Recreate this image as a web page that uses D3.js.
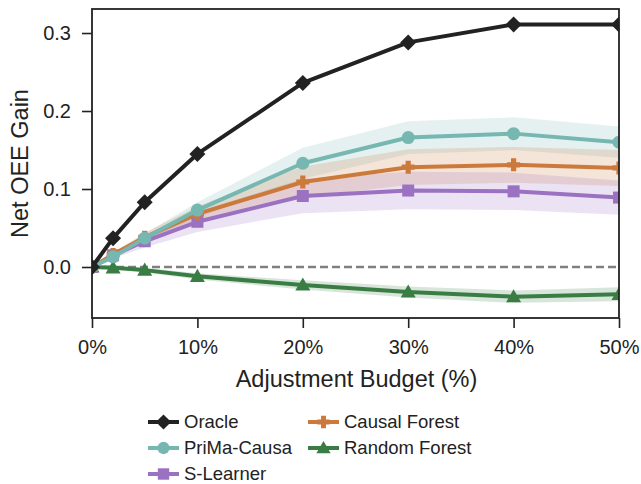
<!DOCTYPE html>
<html><head><meta charset="utf-8">
<script src="https://cdn.jsdelivr.net/npm/d3@7"></script>
<style>body{margin:0;background:#fff}svg{display:block}text{font-family:"Liberation Sans",Arial,sans-serif;fill:#222}</style>
</head><body><svg id="c" width="641" height="484"></svg>
<script>
const budgets = [0, 2, 5, 10, 20, 30, 40, 50];
const xTicks = [0, 10, 20, 30, 40, 50];
const yTicks = [0.0, 0.1, 0.2, 0.3];
const oracle = [0, 0.037, 0.083, 0.145, 0.236, 0.288, 0.311, 0.311];
const prima = [0, 0.013, 0.037, 0.073, 0.133, 0.166, 0.171, 0.160];
const primaErr = [0, 0.003, 0.006, 0.010, 0.020, 0.021, 0.021, 0.020];
const causal = [0, 0.016, 0.038, 0.068, 0.109, 0.128, 0.131, 0.127];
const causalErr = [0, 0.003, 0.006, 0.010, 0.020, 0.023, 0.023, 0.023];
const slearner = [0, 0.015, 0.033, 0.058, 0.091, 0.098, 0.097, 0.089];
const slearnerErr = [0, 0.004, 0.008, 0.013, 0.022, 0.024, 0.024, 0.022];
const rforest = [0, -0.001, -0.004, -0.012, -0.023, -0.032, -0.038, -0.035];
const rforestErr = [0, 0.002, 0.003, 0.004, 0.006, 0.007, 0.008, 0.009];
const names = ["Oracle", "PriMa-Causa", "S-Learner", "Causal Forest", "Random Forest"];
const colors = ["#222222", "#76b7b2", "#9a72c1", "#cc7a3c", "#3a7d44"];

const series = [
  {name: names[0], vals: oracle, err: null, color: colors[0], marker: "diamond"},
  {name: names[1], vals: prima, err: primaErr, color: colors[1], marker: "circle"},
  {name: names[2], vals: slearner, err: slearnerErr, color: colors[2], marker: "square"},
  {name: names[3], vals: causal, err: causalErr, color: colors[3], marker: "plus"},
  {name: names[4], vals: rforest, err: rforestErr, color: colors[4], marker: "triangle"}
];

const svg = d3.select("#c");
const L = 92, R = 619, T = 9, B = 318;
const x = d3.scaleLinear().domain([0, 50]).range([L, R]);
const y = d3.scaleLinear().domain([-0.0654, 0.3308]).range([B, T]);

svg.append("clipPath").attr("id", "plotclip").append("rect")
  .attr("x", L).attr("y", T).attr("width", R - L).attr("height", B - T);
const plot = svg.append("g").attr("clip-path", "url(#plotclip)");

const bandOrder = [1, 3, 2, 4];
bandOrder.forEach(i => {
  const s = series[i];
  const area = d3.area().x((d, j) => x(budgets[j])).y0((d, j) => y(d - s.err[j])).y1((d, j) => y(d + s.err[j]));
  plot.append("path").attr("d", area(s.vals)).attr("fill", s.color).attr("opacity", 0.2);
});

plot.append("line").attr("x1", x(0)).attr("x2", x(50)).attr("y1", y(0)).attr("y2", y(0))
  .attr("stroke", "#808080").attr("stroke-width", 2.4).attr("stroke-dasharray", "8,4");

function drawMarker(g, type, cx, cy, color, sc) {
  sc = sc || 1;
  if (type === "diamond") {
    const r = 8 * sc;
    g.append("path").attr("d", `M${cx},${cy - r}L${cx + r},${cy}L${cx},${cy + r}L${cx - r},${cy}Z`).attr("fill", color);
  } else if (type === "circle") {
    g.append("circle").attr("cx", cx).attr("cy", cy).attr("r", 6.5 * sc).attr("fill", color);
  } else if (type === "square") {
    const h = 6 * sc;
    g.append("rect").attr("x", cx - h).attr("y", cy - h).attr("width", 2 * h).attr("height", 2 * h).attr("fill", color);
  } else if (type === "plus") {
    const a = 6.5 * sc, w = 2.6 * sc;
    g.append("path").attr("d", `M${cx - w},${cy - a}H${cx + w}V${cy - w}H${cx + a}V${cy + w}H${cx + w}V${cy + a}H${cx - w}V${cy + w}H${cx - a}V${cy - w}H${cx - w}Z`).attr("fill", color);
  } else if (type === "triangle") {
    const r = 7.5 * sc;
    g.append("path").attr("d", `M${cx},${cy - r}L${cx + r},${cy + r * 0.75}L${cx - r},${cy + r * 0.75}Z`).attr("fill", color);
  }
}

const drawOrder = [4, 2, 3, 1, 0];
drawOrder.forEach(i => {
  const s = series[i];
  const g = plot.append("g");
  const line = d3.line().x((d, j) => x(budgets[j])).y(d => y(d));
  g.append("path").attr("d", line(s.vals)).attr("fill", "none").attr("stroke", s.color)
    .attr("stroke-width", 4).attr("stroke-linejoin", "round");
  s.vals.forEach((v, j) => drawMarker(g, s.marker, x(budgets[j]), y(v), s.color));
});

svg.append("rect").attr("x", L).attr("y", T).attr("width", R - L).attr("height", B - T)
  .attr("fill", "none").attr("stroke", "#222").attr("stroke-width", 1.8);

const FONT = "'Liberation Sans', Arial, sans-serif";
const xAxis = svg.append("g").attr("transform", `translate(0,${B})`)
  .call(d3.axisBottom(x).tickValues(xTicks).tickFormat(d => d + "%").tickSize(10).tickPadding(12));
xAxis.select(".domain").remove();
xAxis.selectAll("line").attr("stroke", "#222").attr("stroke-width", 1.6);
xAxis.selectAll("text").attr("font-size", 20).attr("fill", "#222").style("font-family", FONT);

const yAxis = svg.append("g").attr("transform", `translate(${L},0)`)
  .call(d3.axisLeft(y).tickValues(yTicks).tickFormat(d3.format(".1f")).tickSize(10).tickPadding(11));
yAxis.select(".domain").remove();
yAxis.selectAll("line").attr("stroke", "#222").attr("stroke-width", 1.6);
yAxis.selectAll("text").attr("font-size", 20).attr("fill", "#222").style("font-family", FONT);

svg.append("text").attr("x", (L + R) / 2 + 1).attr("y", 387).attr("text-anchor", "middle")
  .attr("font-size", 23.5).text("Adjustment Budget (%)");
svg.append("text").attr("transform", `translate(27.5,${(T + B) / 2}) rotate(-90)`).attr("text-anchor", "middle")
  .attr("font-size", 23.5).text("Net OEE Gain");

const legendItems = [
  {s: series[0], lx: 148, ly: 422},
  {s: series[1], lx: 148, ly: 448},
  {s: series[2], lx: 148, ly: 474},
  {s: series[3], lx: 308, ly: 422},
  {s: series[4], lx: 308, ly: 448}
];
legendItems.forEach(it => {
  const g = svg.append("g");
  g.append("line").attr("x1", it.lx).attr("x2", it.lx + 31).attr("y1", it.ly).attr("y2", it.ly)
    .attr("stroke", it.s.color).attr("stroke-width", 4);
  drawMarker(g, it.s.marker, it.lx + 15.5, it.ly, it.s.color, 0.95);
  g.append("text").attr("x", it.lx + 36).attr("y", it.ly).attr("dy", "0.35em").attr("font-size", 18.5).text(it.s.name);
});
</script></body></html>
